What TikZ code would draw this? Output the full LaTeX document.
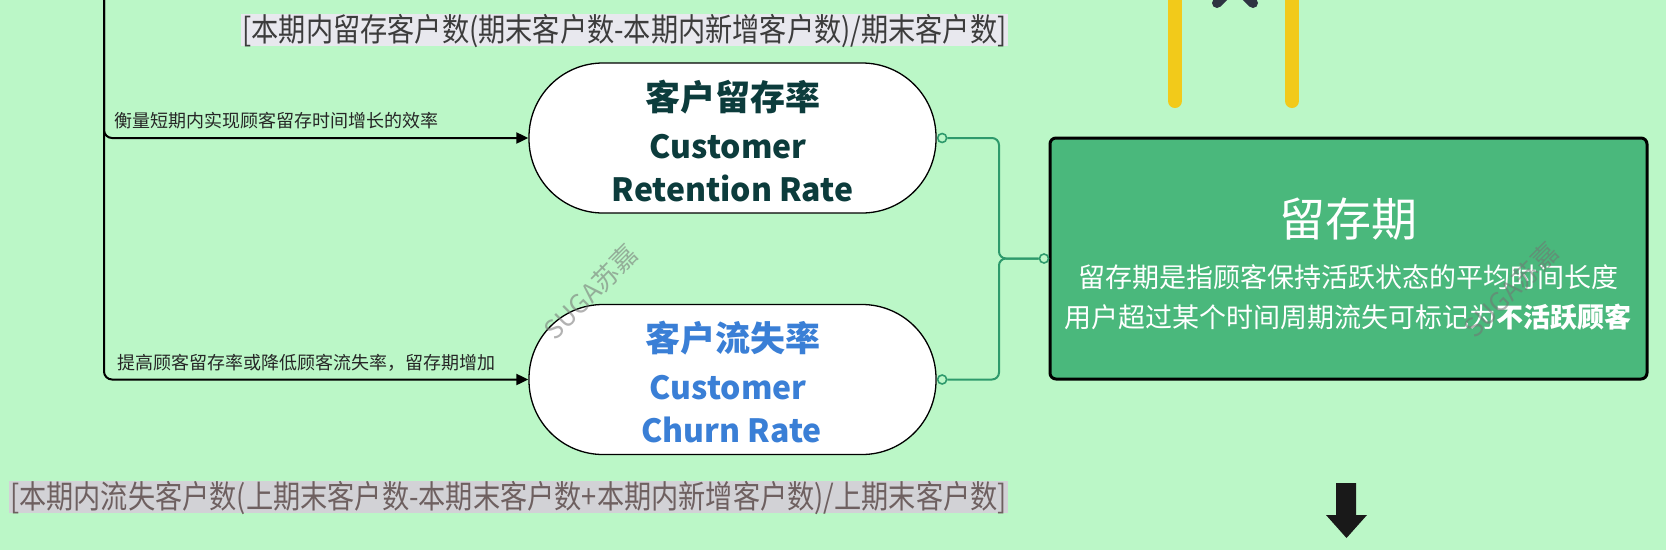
\documentclass[tikz,border=0pt]{standalone}
\usepackage{fontspec}
\setmainfont{Noto Sans CJK SC}
\newfontfamily\narrowfont[FakeStretch=0.85]{Noto Sans CJK SC}
\usetikzlibrary{arrows.meta}
\definecolor{bg}{RGB}{187,247,199}
\definecolor{boxgreen}{RGB}{74,184,124}
\definecolor{conngreen}{RGB}{46,154,108}
\definecolor{retcol}{RGB}{12,60,60}
\definecolor{churncol}{RGB}{58,127,214}
\definecolor{ybar}{RGB}{242,202,26}
\definecolor{xmark}{RGB}{45,52,65}
\definecolor{topfill}{RGB}{232,232,238}
\definecolor{botfill}{RGB}{210,210,214}
\definecolor{toptext}{RGB}{60,60,60}
\definecolor{bottext}{RGB}{110,96,96}
\tikzset{
  pillbox/.style={draw=black, line width=1.3pt, fill=white, rounded corners=74pt,
    minimum width=407pt, minimum height=150pt, inner sep=0pt},
  periodbox/.style={draw=black, line width=3pt, fill=boxgreen, rounded corners=6pt,
    minimum width=597pt, minimum height=241pt, inner sep=0pt},
  pilltxt/.style={font=\fontsize{35}{40}\selectfont\bfseries, inner sep=0pt},
  pillen/.style={font=\fontsize{32}{36}\selectfont\bfseries, inner sep=0pt},
  bodytxt/.style={text=white, inner sep=0pt},
  lbl/.style={font=\fontsize{18}{20}\selectfont, text=black!85, inner sep=0pt},
  formula/.style={font=\narrowfont\fontsize{32}{36}\selectfont, inner xsep=1pt, inner ysep=0pt,
    text height=27pt, text depth=5pt},
  rail/.style={draw=black, line width=2pt, rounded corners=8pt, -{Triangle[length=12pt,width=11pt]}},
  conn/.style={draw=conngreen, line width=2pt, rounded corners=7pt},
  port/.style={circle, draw=conngreen, fill=bg, line width=1.6pt, inner sep=0pt, minimum size=9pt},
  wm/.style={font=\fontsize{26}{28}\selectfont, text=black!55, opacity=0.55, inner sep=0pt},
  yline/.style={draw=ybar, line width=14pt, line cap=round},
  xline/.style={draw=xmark, line width=10pt, line cap=round}
}
\begin{document}
\begin{tikzpicture}[x=1pt,y=-1pt]
\clip (0,0) rectangle (1666,550);
\fill[bg] (0,0) rectangle (1666,550);

% decorative top shapes
\draw[yline] (1175,-20) -- (1175,101);
\draw[yline] (1292,-20) -- (1292,101);
\draw[xline] (1217,3) -- (1240,-20);
\draw[xline] (1253,3) -- (1230,-20);

% formulas
\node[formula, fill=topfill, text=toptext, anchor=base] (fret) at (624.5,41.2)
  {[本期内留存客户数(期末客户数-本期内新增客户数)/期末客户数]};
\node[formula, fill=botfill, text=bottext, anchor=base] (fchurn) at (508.5,508.2)
  {[本期内流失客户数(上期末客户数-本期末客户数+本期内新增客户数)/上期末客户数]};

% main nodes
\node[pillbox] (ret) at (732.5,138) {};
\node[pillbox] (churn) at (732.5,379.5) {};
\node[periodbox] (period) at (1348.5,258.5) {};

% pill texts
\node[pilltxt, text=retcol, anchor=base] (retzh) at (732.5,110) {客户留存率};
\node[pillen, text=retcol, anchor=base] (reten1) at (728,158) {Customer};
\node[pillen, text=retcol, anchor=base] (reten2) at (732.5,201) {Retention Rate};
\node[pilltxt, text=churncol, anchor=base] (churnzh) at (732.5,351) {客户流失率};
\node[pillen, text=churncol, anchor=base] (churnen1) at (728,399) {Customer};
\node[pillen, text=churncol, anchor=base] (churnen2) at (731.5,442) {Churn Rate};

% period texts
\node[bodytxt, font=\fontsize{46}{50}\selectfont, anchor=base] (ptitle) at (1348,236) {留存期};
\node[bodytxt, font=\fontsize{27}{30}\selectfont, anchor=base] (pline1) at (1348,287)
  {留存期是指顾客保持活跃状态的平均时间长度};
\node[bodytxt, font=\fontsize{27}{30}\selectfont, anchor=base] (pline2) at (1348,327)
  {用户超过某个时间周期流失可标记为\textbf{不活跃顾客}};

% left rail with arrows
\coordinate (railtop) at (104,-10);
\draw[rail] (railtop) |- (ret.west);
\draw[rail] (railtop) |- (churn.west);
\node[lbl, anchor=base west] (retlbl) at (114,127) {衡量短期内实现顾客留存时间增长的效率};
\node[lbl, anchor=base west] (churnlbl) at (117,369) {提高顾客留存率或降低顾客流失率，留存期增加};

% green connectors
\node[port] (retport) at ([xshift=5.5pt]ret.east) {};
\node[port] (churnport) at ([xshift=5.5pt]churn.east) {};
\node[port] (periodport) at ([xshift=-4.5pt]period.west) {};
\coordinate (junction) at (999,258.5);
\draw[conn] (retport) -| (junction) -- (periodport);
\draw[conn] (churnport) -| (junction) -- (periodport);

% down arrow
\fill[black!90] (1336,483) -- (1356,483) -- (1356,515) -- (1367,515) -- (1346.5,538)
  -- (1326,515) -- (1336,515) -- cycle;

% watermarks
\node[wm, rotate=45] (wm1) at (591,292) {SUGA苏嘉};
\node[wm, rotate=45] (wm2) at (1511,290) {SUGA苏嘉};
\end{tikzpicture}
\end{document}
